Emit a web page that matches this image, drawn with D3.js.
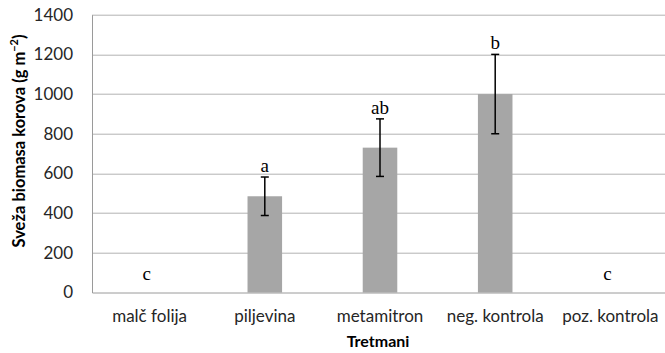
<!DOCTYPE html>
<html>
<head>
<meta charset="utf-8">
<script src="https://cdn.jsdelivr.net/npm/d3@7"></script>
<style>
  body { margin: 0; background: #fff; }
  svg { display: block; }
</style>
</head>
<body>
<div id="chart"></div>
<script>
// data
const categories = ["malč folija", "piljevina", "metamitron", "neg. kontrola", "poz. kontrola"];
const values = [0, 485, 730, 1000, 0];
const errors = [0, 97, 145, 200, 0];
const letters = ["c", "a", "ab", "b", "c"];
const yTicks = [0, 200, 400, 600, 800, 1000, 1200, 1400];

const width = 665, height = 353;
const margin = { top: 14.7, right: -3, bottom: 60.5, left: 92 };
const innerW = width - margin.left - margin.right;
const innerH = height - margin.top - margin.bottom;
const sans = "Lato, Open Sans, sans-serif";

const svg = d3.select("#chart").append("svg")
    .attr("width", width)
    .attr("height", height);

const g = svg.append("g")
    .attr("transform", `translate(${margin.left},${margin.top})`);

const x = d3.scaleBand()
    .domain(categories)
    .range([0, innerW])
    .paddingInner(0.7)
    .paddingOuter(0.35);

const y = d3.scaleLinear()
    .domain([0, 1400])
    .range([innerH, 0]);

// gridlines
g.selectAll(".grid")
    .data(yTicks.filter(d => d > 0))
    .join("line")
    .attr("class", "grid")
    .attr("x1", 0)
    .attr("x2", innerW)
    .attr("y1", d => Math.round(y(d)) + 0.5)
    .attr("y2", d => Math.round(y(d)) + 0.5)
    .attr("stroke", "#b3b3b3")
    .attr("stroke-width", 1);

// bars
g.selectAll(".bar")
    .data(categories)
    .join("rect")
    .attr("class", "bar")
    .attr("x", d => x(d))
    .attr("y", (d, i) => y(values[i]))
    .attr("width", x.bandwidth())
    .attr("height", (d, i) => innerH - y(values[i]))
    .attr("fill", "#a6a6a6");

// error bars
const errData = categories.map((c, i) => ({ c, v: values[i], e: errors[i], l: letters[i] }));
const eg = g.selectAll(".err")
    .data(errData.filter(d => d.e > 0))
    .join("g")
    .attr("class", "err")
    .attr("transform", d => `translate(${x(d.c) + x.bandwidth() / 2},0)`);

eg.append("line")
    .attr("y1", d => y(d.v + d.e))
    .attr("y2", d => y(d.v - d.e))
    .attr("stroke", "#000")
    .attr("stroke-width", 1.5);
eg.append("line")
    .attr("x1", -4).attr("x2", 4)
    .attr("y1", d => y(d.v + d.e))
    .attr("y2", d => y(d.v + d.e))
    .attr("stroke", "#000")
    .attr("stroke-width", 1.5);
eg.append("line")
    .attr("x1", -4).attr("x2", 4)
    .attr("y1", d => y(d.v - d.e))
    .attr("y2", d => y(d.v - d.e))
    .attr("stroke", "#000")
    .attr("stroke-width", 1.5);

// significance letters
g.selectAll(".letter")
    .data(errData)
    .join("text")
    .attr("class", "letter")
    .attr("x", d => x(d.c) + x.bandwidth() / 2 + (d.e > 0 ? 0 : -3))
    .attr("y", d => d.e > 0 ? y(d.v + d.e) - 5 : y(0) - 12)
    .attr("text-anchor", "middle")
    .attr("font-family", "Liberation Serif, serif")
    .attr("font-size", 19)
    .attr("fill", "#000")
    .text(d => d.l);

// axes
const yAxis = g.append("g")
    .call(d3.axisLeft(y).tickValues(yTicks).tickFormat(d3.format("d")).tickSize(0).tickPadding(19));
yAxis.select(".domain").attr("stroke", "#9a9a9a");
yAxis.selectAll("text")
    .attr("font-family", sans)
    .attr("font-size", 17)
    .attr("fill", "#262626");

const xAxis = g.append("g")
    .attr("transform", `translate(0,${innerH})`)
    .call(d3.axisBottom(x).tickSize(0).tickPadding(17));
xAxis.select(".domain").attr("stroke", "#9a9a9a");
xAxis.selectAll("text")
    .attr("font-family", sans)
    .attr("font-size", 17)
    .attr("fill", "#262626");

// axis titles
svg.append("text")
    .attr("x", 378)
    .attr("y", 347)
    .attr("text-anchor", "middle")
    .attr("font-family", sans)
    .attr("font-weight", "bold")
    .attr("font-size", 16)
    .text("Tretmani");

const yt = svg.append("text")
    .attr("transform", "translate(25,141) rotate(-90)")
    .attr("text-anchor", "middle")
    .attr("font-family", sans)
    .attr("font-weight", "bold")
    .attr("font-size", 16.5);
yt.append("tspan").text("Sveža biomasa korova (g m");
yt.append("tspan").attr("font-size", 11).attr("dy", -7).text("−2");
yt.append("tspan").attr("dy", 7).text(")");
</script>
</body>
</html>
